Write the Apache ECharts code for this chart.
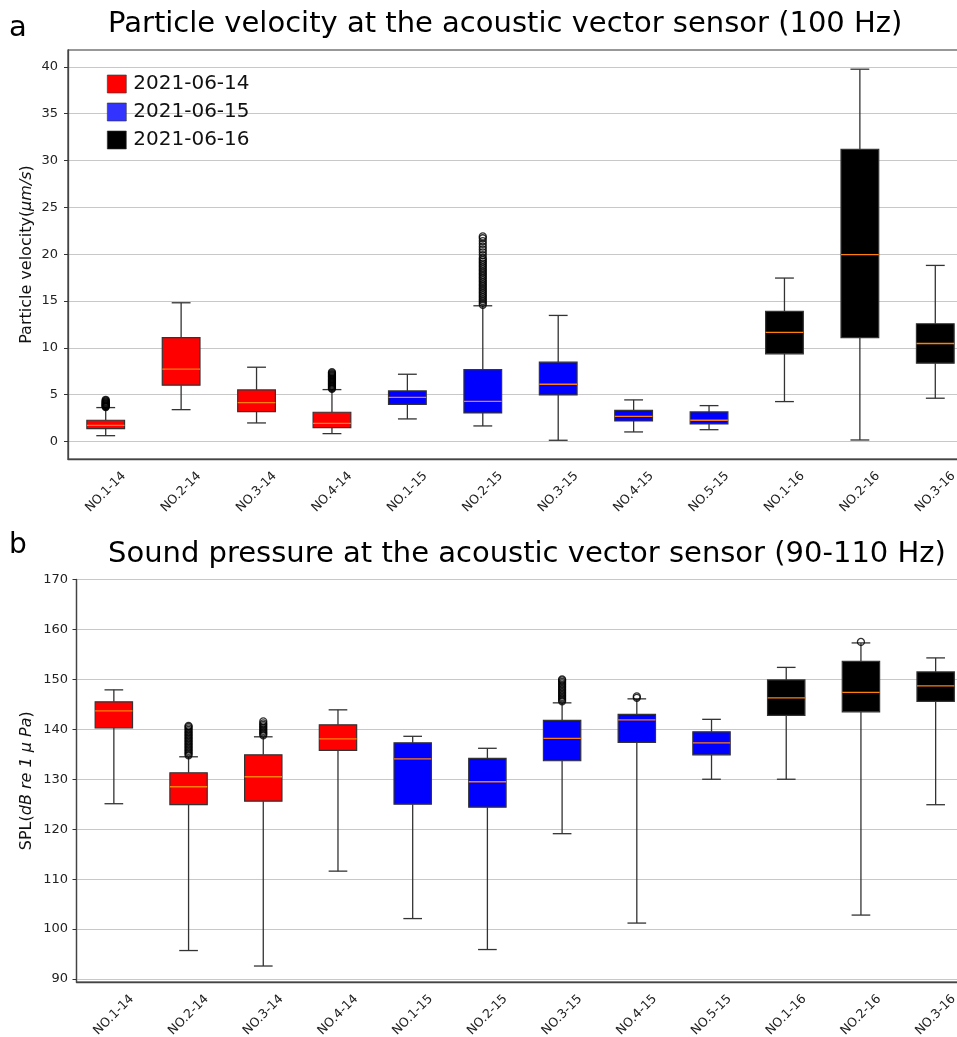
<!DOCTYPE html>
<html>
<head>
<meta charset="utf-8">
<script src="https://cdn.jsdelivr.net/npm/echarts@6/dist/echarts.min.js"></script>
<style>
  html, body { margin: 0; padding: 0; background: #fff; }
  #chart { width: 957px; height: 1037px; }
</style>
</head>
<body>
<div id="chart"></div>
<script>
// categories: sensor / day
const categories = ['NO.1-14', 'NO.2-14', 'NO.3-14', 'NO.4-14', 'NO.1-15', 'NO.2-15',
  'NO.3-15', 'NO.4-15', 'NO.5-15', 'NO.1-16', 'NO.2-16', 'NO.3-16'];
const days = ['2021-06-14', '2021-06-15', '2021-06-16'];
const dayOf = [0, 0, 0, 0, 1, 1, 1, 1, 1, 2, 2, 2];
const dayColors = ['#ff0000', '#0000ff', '#000000'];
const legendColors = ['#ff0000', '#3333ff', '#000000'];

// y tick labels
const velTicks = [0, 5, 10, 15, 20, 25, 30, 35, 40];
const splTicks = [90, 100, 110, 120, 130, 140, 150, 160, 170];

// particle velocity (um/s): [lower whisker, Q1, median, Q3, upper whisker]
const velStats = [
  [0.62, 1.37, 1.73, 2.27, 3.62],
  [3.40, 6.01, 7.72, 11.10, 14.81],
  [1.98, 3.19, 4.15, 5.51, 7.93],
  [0.84, 1.48, 1.94, 3.12, 5.54],
  [2.41, 3.97, 4.72, 5.40, 7.18],
  [1.66, 3.05, 4.29, 7.68, 14.49],
  [0.13, 4.97, 6.11, 8.47, 13.46],
  [1.02, 2.19, 2.69, 3.33, 4.44],
  [1.26, 1.87, 2.27, 3.16, 3.83],
  [4.26, 9.36, 11.64, 13.89, 17.45],
  [0.16, 11.10, 19.95, 31.18, 39.75],
  [4.62, 8.36, 10.46, 12.57, 18.80]
];
const velOutliers = [
  [3.68, 3.74, 3.8, 3.86, 3.92, 3.98, 4.05, 4.12, 4.2, 4.28, 4.36, 4.45],
  [],
  [],
  [5.62, 5.7, 5.8, 5.9, 6.0, 6.1, 6.2, 6.3, 6.4, 6.5, 6.6, 6.7, 6.8, 6.9, 7.0, 7.1, 7.2, 7.3, 7.4],
  [],
  [14.6, 14.8, 15.0, 15.2, 15.4, 15.6, 15.8, 16.0, 16.2, 16.4, 16.6, 16.8, 17.0, 17.2, 17.4,
   17.6, 17.8, 18.0, 18.2, 18.4, 18.6, 18.8, 19.0, 19.2, 19.4, 19.6, 19.9, 20.2, 20.5, 20.8,
   21.1, 21.4, 21.7, 21.9],
  [], [], [], [], [], []
];

// sound pressure level (dB re 1 uPa): [lower whisker, Q1, median, Q3, upper whisker]
const splStats = [
  [125.1, 140.3, 143.7, 145.5, 147.9],
  [95.7, 124.9, 128.5, 131.3, 134.5],
  [92.6, 125.6, 130.5, 134.9, 138.5],
  [111.6, 135.8, 138.1, 140.9, 143.9],
  [102.1, 125.0, 134.1, 137.3, 138.6],
  [95.9, 124.4, 129.5, 134.2, 136.2],
  [119.1, 133.7, 138.2, 141.8, 145.3],
  [101.2, 137.4, 141.9, 143.0, 146.1],
  [130.0, 134.9, 137.3, 139.5, 142.0],
  [130.0, 142.8, 146.3, 149.9, 152.4],
  [102.8, 143.5, 147.4, 153.6, 157.3],
  [124.9, 145.6, 148.7, 151.5, 154.3]
];
const splOutliers = [
  [],
  [134.8, 135.1, 135.4, 135.7, 136.0, 136.3, 136.6, 136.9, 137.2, 137.5, 137.8, 138.1, 138.4,
   138.7, 139.0, 139.3, 139.6, 139.9, 140.2, 140.5, 140.7],
  [138.8, 139.1, 139.4, 139.7, 140.0, 140.3, 140.6, 140.9, 141.2, 141.6],
  [],
  [],
  [],
  [145.6, 145.9, 146.2, 146.5, 146.8, 147.1, 147.4, 147.7, 148.0, 148.3, 148.6, 148.9, 149.2,
   149.5, 149.8, 150.0],
  [146.3, 146.6],
  [],
  [],
  [157.5],
  []
];

const FONT = 'DejaVu Sans';

function renderBox(params, api) {
  const x = api.value(0);
  const lo = api.coord([x, api.value(1)]);
  const q1 = api.coord([x, api.value(2)]);
  const med = api.coord([x, api.value(3)]);
  const q3 = api.coord([x, api.value(4)]);
  const hi = api.coord([x, api.value(5)]);
  const band = api.size([1, 0])[0];
  const bw = band * 0.5;
  const cw = bw * 0.5;
  const cx = lo[0];
  const wStyle = { stroke: '#333', lineWidth: 1.3 };
  return {
    type: 'group',
    children: [
      { type: 'line', shape: { x1: cx, y1: lo[1], x2: cx, y2: q1[1] }, style: wStyle },
      { type: 'line', shape: { x1: cx, y1: q3[1], x2: cx, y2: hi[1] }, style: wStyle },
      { type: 'line', shape: { x1: cx - cw / 2, y1: lo[1], x2: cx + cw / 2, y2: lo[1] }, style: wStyle },
      { type: 'line', shape: { x1: cx - cw / 2, y1: hi[1], x2: cx + cw / 2, y2: hi[1] }, style: wStyle },
      {
        type: 'rect',
        shape: { x: cx - bw / 2, y: q3[1], width: bw, height: q1[1] - q3[1] },
        style: { fill: api.visual('color'), stroke: '#333', lineWidth: 1.2 }
      },
      {
        type: 'line',
        shape: { x1: cx - bw / 2, y1: med[1], x2: cx + bw / 2, y2: med[1] },
        style: { stroke: '#ff7f0e', lineWidth: 1.3 }
      }
    ]
  };
}

function boxSeries(stats, gridIdx) {
  return days.map((day, d) => ({
    name: day,
    type: 'custom',
    xAxisIndex: gridIdx,
    yAxisIndex: gridIdx,
    itemStyle: { color: dayColors[d] },
    renderItem: renderBox,
    encode: { x: 0, y: [1, 2, 3, 4, 5] },
    data: stats.map((s, i) => [i].concat(s)).filter(r => dayOf[r[0]] === d),
    z: 3
  }));
}

function outlierSeries(outliers, gridIdx) {
  const pts = [];
  outliers.forEach((vals, i) => vals.forEach(v => pts.push([i, v])));
  return {
    type: 'scatter',
    xAxisIndex: gridIdx,
    yAxisIndex: gridIdx,
    symbol: 'circle',
    symbolSize: 7,
    itemStyle: { color: 'rgba(0,0,0,0)', borderColor: '#000', borderWidth: 1.3 },
    data: pts,
    z: 4,
    silent: true
  };
}

function xAxisOf(gridIdx) {
  return {
    type: 'category',
    gridIndex: gridIdx,
    data: categories,
    axisLine: { onZero: false, lineStyle: { color: '#444', width: 1.3 } },
    axisTick: { alignWithLabel: true, length: 4, lineStyle: { color: '#333' } },
    axisLabel: {
      rotate: 45, align: 'center', verticalAlign: 'middle', margin: 33,
      fontSize: 12.5, color: '#222', fontFamily: FONT, interval: 0
    },
    splitLine: { show: false }
  };
}

function yAxisOf(gridIdx, min, max, ticks, nameRich, gap, labelMargin) {
  const step = ticks[1] - ticks[0];
  return {
    type: 'value',
    gridIndex: gridIdx,
    min: min,
    max: max,
    minInterval: step,
    maxInterval: step,
    axisLine: { show: true, onZero: false, lineStyle: { color: '#444', width: 1.3 } },
    axisTick: { show: true, length: 4, lineStyle: { color: '#333' }, customValues: ticks },
    axisLabel: {
      fontSize: 13, color: '#222', fontFamily: FONT, margin: labelMargin,
      customValues: ticks,
      formatter: v => (ticks.indexOf(Math.round(v * 1000) / 1000) >= 0 ? String(v) : '')
    },
    splitLine: { show: true, lineStyle: { color: '#c8c8c8', width: 1.2 } },
    name: nameRich,
    nameLocation: 'middle',
    nameGap: gap,
    nameMoveOverlap: false,
    nameTextStyle: {
      fontSize: 16, color: '#111', fontFamily: FONT,
      rich: {
        n: { fontSize: 16, color: '#111', fontFamily: FONT },
        i: { fontSize: 16, color: '#111', fontFamily: FONT, fontStyle: 'italic' }
      }
    }
  };
}

const chart = echarts.init(document.getElementById('chart'), null, { renderer: 'canvas' });

chart.setOption({
  backgroundColor: '#fff',
  animation: false,
  textStyle: { fontFamily: FONT },
  title: [
    { text: 'a', left: 9, top: 14, padding: 0, textStyle: { fontSize: 29, fontWeight: 'normal', color: '#000', fontFamily: FONT } },
    { text: 'Particle velocity at the acoustic vector sensor (100 Hz)', left: 108, top: 10, padding: 0,
      textStyle: { fontSize: 29, fontWeight: 'normal', color: '#000', fontFamily: FONT } },
    { text: 'b', left: 9, top: 532, padding: 0, textStyle: { fontSize: 28, fontWeight: 'normal', color: '#000', fontFamily: FONT } },
    { text: 'Sound pressure at the acoustic vector sensor (90-110 Hz)', left: 108, top: 540, padding: 0,
      textStyle: { fontSize: 29, fontWeight: 'normal', color: '#000', fontFamily: FONT } }
  ],
  legend: {
    orient: 'vertical',
    left: 107,
    top: 74,
    padding: 0,
    itemWidth: 19,
    itemHeight: 18,
    itemGap: 8,
    icon: 'rect',
    textStyle: { fontSize: 20, color: '#111', fontFamily: FONT, padding: [0, 0, 0, 2] },
    data: days.map((d, i) => ({ name: d, itemStyle: { color: legendColors[i], borderColor: '#333', borderWidth: 0.6 } })),
    selectedMode: false
  },
  grid: [
    { left: 68, width: 905, top: 50, height: 409, outerBoundsMode: 'none', show: true, borderColor: '#333', borderWidth: 1.2 },
    { left: 76.5, width: 896.5, top: 579.5, height: 402.5, outerBoundsMode: 'none', show: true, borderColor: '#333', borderWidth: 1.2 }
  ],
  xAxis: [xAxisOf(0), xAxisOf(1)],
  yAxis: [
    yAxisOf(0, -1.87, 41.8, velTicks, '{n|Particle velocity(}{i|μm/s}{n|)}', 33, 10),
    yAxisOf(1, 89.4, 170, splTicks, '{n|SPL(}{i|dB re 1 μ Pa}{n|)}', 41.5, 8.5)
  ],
  series: [].concat(
    boxSeries(velStats, 0),
    boxSeries(splStats, 1),
    [outlierSeries(velOutliers, 0), outlierSeries(splOutliers, 1)]
  )
});

window.addEventListener('resize', () => chart.resize());
</script>
</body>
</html>
